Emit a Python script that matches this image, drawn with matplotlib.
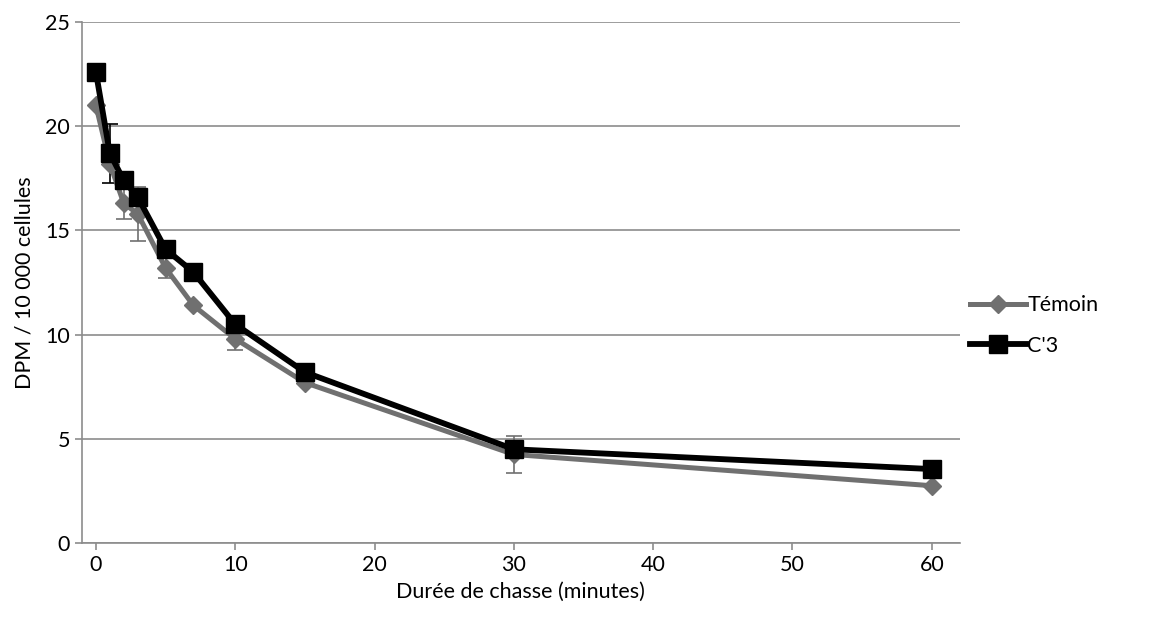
import matplotlib
matplotlib.use("Agg")
import matplotlib.pyplot as plt

plt.rcParams["font.family"] = ["Lato", "DejaVu Sans"]

# durée de chasse (minutes)
TIME = [0, 1, 2, 3, 5, 7, 10, 15, 30, 60]
TEMOIN = [21.0, 18.2, 16.3, 15.8, 13.2, 11.4, 9.8, 7.7, 4.25, 2.75]
TEMOIN_ERR = [0, 0, 0.75, 1.3, 0.5, 0, 0.55, 0, 0.9, 0]
C3 = [22.6, 18.7, 17.4, 16.6, 14.1, 13.0, 10.5, 8.2, 4.5, 3.55]
C3_ERR = [0, 1.4, 0, 0, 0, 0, 0, 0, 0, 0]

GRAY = "#707070"
GRID = "#8c8c8c"
FS = 15.5

fig = plt.figure(figsize=(11.61, 6.3), dpi=100)
ax = fig.add_axes([0.0706, 0.138, 0.756, 0.827])

# error bars drawn apart so the legend keys stay plain lines
ax.errorbar(TIME, TEMOIN, yerr=TEMOIN_ERR, fmt="none", ecolor=GRAY,
            elinewidth=1.2, capsize=6, capthick=1.2, zorder=2)
ax.errorbar(TIME, C3, yerr=C3_ERR, fmt="none", ecolor="black",
            elinewidth=1.2, capsize=6, capthick=1.2, zorder=2)
ax.plot(TIME, TEMOIN, color=GRAY, lw=3.6, marker="D", markersize=9,
        zorder=3, label="Témoin")
ax.plot(TIME, C3, color="black", lw=4.2, marker="s", markersize=13,
        zorder=4, label="C'3")

ax.set_xlim(-1, 62)
ax.set_ylim(0, 25)
ax.set_xticks(range(0, 61, 10))
ax.set_yticks(range(0, 26, 5))
ax.grid(True, axis="y", color=GRID, linewidth=1.2, zorder=0)
ax.set_axisbelow(True)
ax.spines[["top", "right"]].set_visible(False)
for side in ("left", "bottom"):
    ax.spines[side].set_color(GRID)
    ax.spines[side].set_linewidth(1.2)
ax.tick_params(colors=GRID, labelcolor="black", labelsize=FS, length=5, width=1.2)

ax.set_xlabel("Durée de chasse (minutes)", fontsize=FS, labelpad=5)
ax.set_ylabel("DPM / 10 000 cellules", fontsize=FS, labelpad=8)

ax.legend(loc="center left", bbox_to_anchor=(0.99, 0.418), frameon=False,
          fontsize=FS, handlelength=2.6, handletextpad=0.05, labelspacing=0.95)

fig.savefig("out.png", dpi=100)
